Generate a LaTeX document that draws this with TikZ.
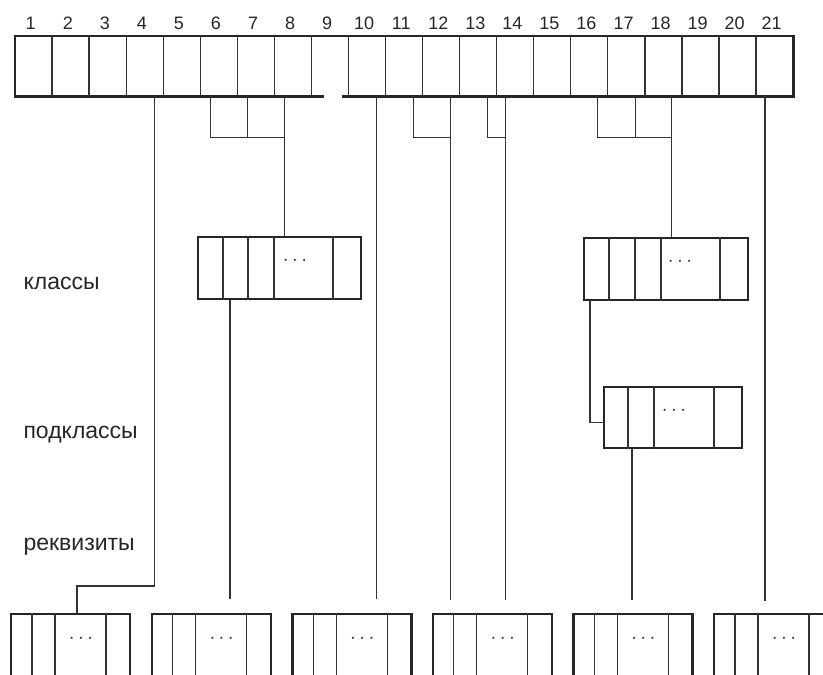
\documentclass[tikz,border=0pt]{standalone}
\usepackage{fontspec}
\setmainfont{Liberation Sans}
\usetikzlibrary{positioning,calc}
\tikzset{
  cell/.style={rectangle,minimum width=37.05pt,minimum height=60pt,inner sep=0pt,anchor=north west},
  outline/.style={line width=2.4pt,draw=black!85},
  divider/.style={line width=1.3pt,draw=black!80},
  link/.style={line width=1.2pt,draw=black!80},
  num/.style={font=\fontsize{18}{18}\selectfont,anchor=base,text=black!85},
  lbl/.style={font=\fontsize{23}{23}\selectfont,anchor=base west,text=black!85},
  more/.style={font=\fontsize{20}{20}\selectfont,text=black!80},
  rec/.style={rectangle,draw=black!85,line width=2.4pt,minimum height=62pt,inner sep=0pt,anchor=north west},
}

\begin{document}
\begin{tikzpicture}[x=1pt,y=-1pt]
  \useasboundingbox (0,0) rectangle (823,675);
  \clip (0,0) rectangle (823,675);

  \foreach \i in {1,...,21} \node[cell] (c\i) at ({15+37.05*(\i-1)},36) {};
  \draw[outline] ($(c9.south west)+(13,0)$) -- (c1.south west) -- (c1.north west)
    -- (c21.north east) -- (c21.south east) -- ($(c10.south west)+(-6,0)$);
  \foreach \i in {2,...,21} \draw[divider] (c\i.north west) -- (c\i.south west);
  \foreach \i in {1,...,21} \node[num] (n\i) at ($(c\i.north)+(-3,-7)$) {\i};

  \node[rec,minimum width=163pt] (k1) at (197,236) {};
  \foreach \d in {26,51,77,136} \draw[divider] ($(k1.north west)+(\d,0)$) -- ($(k1.south west)+(\d,0)$);
  \node[more] at ($(k1.north west)+(98,25)$) {$\cdots$};

  \node[rec,minimum width=164pt] (k2) at (583,237) {};
  \foreach \d in {26,52,78,137} \draw[divider] ($(k2.north west)+(\d,0)$) -- ($(k2.south west)+(\d,0)$);
  \node[more] at ($(k2.north west)+(97,25)$) {$\cdots$};

  \node[rec,minimum width=138pt,minimum height=61pt] (p1) at (603,386) {};
  \foreach \d in {25,51,111} \draw[divider] ($(p1.north west)+(\d,0)$) -- ($(p1.south west)+(\d,0)$);
  \node[more] at ($(p1.north west)+(71,25)$) {$\cdots$};

  \foreach \i in {1,...,6} {
    \node[rec,minimum width=119pt,minimum height=65pt] (r\i) at ({10+140.6*(\i-1)},613) {};
    \foreach \d in {22,45,96} \draw[divider] ($(r\i.north west)+(\d,0)$) -- ($(r\i.south west)+(\d,0)$);
    \node[more] at ($(r\i.north west)+(71,26)$) {$\cdots$};
  }

  \node[lbl] (lcls) at (20,289) {классы};
  \node[lbl] (lsub) at (20,438) {подклассы};
  \node[lbl] (lreq) at (20,550) {реквизиты};

  \coordinate (t4) at ($(c4.south west)+(28,0)$);
  \coordinate (t6) at ($(c6.south west)+(10,0)$);
  \coordinate (t7) at ($(c7.south west)+(10,0)$);
  \coordinate (t8) at ($(c8.south west)+(10,0)$);
  \coordinate (t10) at ($(c10.south west)+(28,0)$);
  \coordinate (t11) at ($(c11.south west)+(28,0)$);
  \coordinate (t12) at ($(c12.south west)+(28,0)$);
  \coordinate (t13) at ($(c13.south west)+(28,0)$);
  \coordinate (t14) at ($(c14.south west)+(9,0)$);
  \coordinate (t16) at ($(c16.south west)+(27,0)$);
  \coordinate (t17) at ($(c17.south west)+(28,0)$);
  \coordinate (t18) at ($(c18.south west)+(27,0)$);
  \coordinate (t21) at ($(c21.south west)+(9,0)$);
  \coordinate (k1o) at ($(k1.south west)+(33,0)$);
  \coordinate (k2o) at ($(k2.south west)+(7,0)$);
  \coordinate (p1o) at ($(p1.south west)+(29,0)$);
  \coordinate (r1in) at ($(r1.north west)+(67,0)$);

  \draw[link] (t6) |- ($(t8)+(0,41)$);
  \draw[link] (t7) -- ++(0,41);
  \draw[link] (t8) -- (t8 |- k1.north);
  \draw[link] (t11) |- ($(t12)+(0,41)$);
  \draw[link] (t13) |- ($(t14)+(0,41)$);
  \draw[link] (t16) |- ($(t18)+(0,41)$);
  \draw[link] (t17) -- ++(0,41);
  \draw[link] (t18) -- (t18 |- k2.north);
  \draw[link] (t4) |- ($(r1in)+(0,-27)$) -- (r1in);
  \draw[link,shorten >=14pt] (k1o) -- (k1o |- r2.north);
  \draw[link,shorten >=14pt] (t10) -- (t10 |- r3.north);
  \draw[link,shorten >=13pt] (t12) -- (t12 |- r4.north);
  \draw[link,shorten >=13pt] (t14) -- (t14 |- r4.north);
  \draw[link] (k2o) |- ($(p1.west)+(0,5)$);
  \draw[link,shorten >=13pt] (p1o) -- (p1o |- r5.north);
  \draw[link,shorten >=12pt] (t21) -- (t21 |- r6.north);
\end{tikzpicture}
\end{document}
